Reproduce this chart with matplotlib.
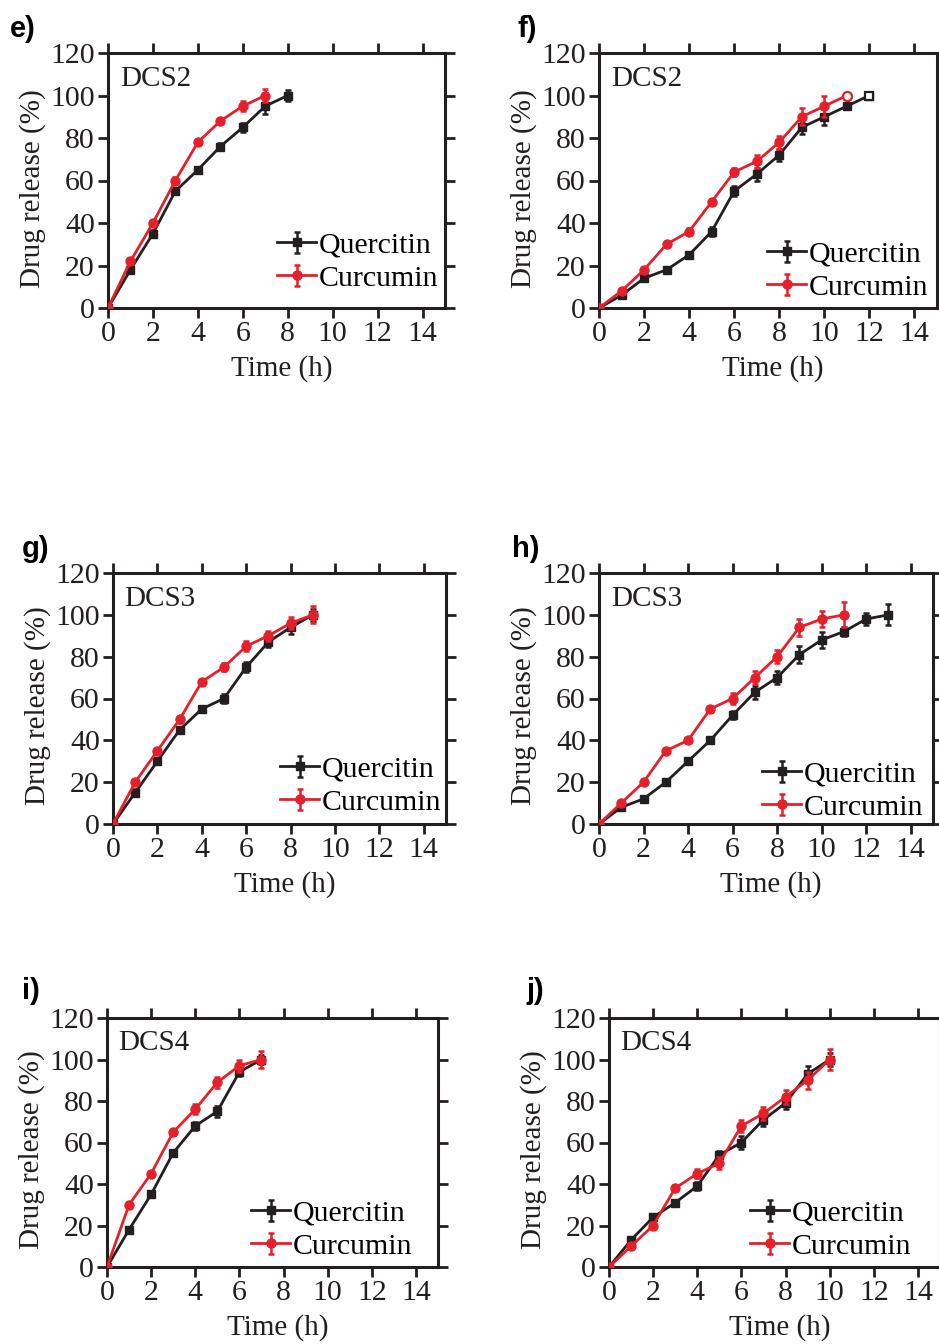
import matplotlib
matplotlib.use("Agg")
import matplotlib.pyplot as plt
from matplotlib.legend_handler import HandlerErrorbar
from matplotlib.container import ErrorbarContainer

plt.rcParams["font.family"] = ["Liberation Serif", "DejaVu Serif"]

BLACK = "#231f20"
RED = "#e5202a"

# ---- release data (time in h, cumulative release in %) ----
e_q_t = [0, 1, 2, 3, 4, 5, 6, 7, 8]
e_q_y = [0, 18, 35, 55, 65, 76, 85, 95, 100]
e_q_err = [0.5, 1.5, 1.5, 1.5, 1.5, 1.5, 2, 3.5, 2.5]
e_c_t = [0, 1, 2, 3, 4, 5, 6, 7]
e_c_y = [0, 22, 40, 60, 78, 88, 95, 100]
e_c_err = [0.5, 1.5, 1.5, 1.5, 1.5, 1.5, 2.5, 3]

f_q_t = [0, 1, 2, 3, 4, 5, 6, 7, 8, 9, 10, 11, 12]
f_q_y = [0, 6, 14, 18, 25, 36, 55, 63, 72, 85, 90, 95, 100]
f_q_err = [0.5, 1, 1, 1, 1.5, 2, 2.5, 3, 3, 3, 4, 1, 0]
f_c_t = [0, 1, 2, 3, 4, 5, 6, 7, 8, 9, 10, 11]
f_c_y = [0, 8, 18, 30, 36, 50, 64, 69, 78, 90, 95, 100]
f_c_err = [0.5, 1, 1.5, 1, 1.5, 1.5, 2, 3, 3, 4, 5, 0]

g_q_t = [0, 1, 2, 3, 4, 5, 6, 7, 8, 9]
g_q_y = [0, 15, 30, 45, 55, 60, 75, 87, 94, 100]
g_q_err = [0.5, 1.5, 1.5, 1.5, 1.5, 2, 2.5, 2.5, 3, 3]
g_c_t = [0, 1, 2, 3, 4, 5, 6, 7, 8, 9]
g_c_y = [0, 20, 35, 50, 68, 75, 85, 90, 96, 100]
g_c_err = [0.5, 1.5, 1.5, 1.5, 1.5, 2, 2.5, 2.5, 3, 4]

h_q_t = [0, 1, 2, 3, 4, 5, 6, 7, 8, 9, 10, 11, 12, 13]
h_q_y = [0, 8, 12, 20, 30, 40, 52, 63, 70, 81, 88, 92, 98, 100]
h_q_err = [0.5, 1, 1, 1, 1, 1.5, 2, 3, 3, 4, 4, 2, 3, 5]
h_c_t = [0, 1, 2, 3, 4, 5, 6, 7, 8, 9, 10, 11]
h_c_y = [0, 10, 20, 35, 40, 55, 60, 70, 80, 94, 98, 100]
h_c_err = [0.5, 1, 1, 1, 1, 1.5, 2.5, 3, 3, 4, 4, 6]

i_q_t = [0, 1, 2, 3, 4, 5, 6, 7]
i_q_y = [0, 18, 35, 55, 68, 75, 94, 100]
i_q_err = [0.5, 1.5, 1.5, 1.5, 2, 2.5, 2, 2]
i_c_t = [0, 1, 2, 3, 4, 5, 6, 7]
i_c_y = [0, 30, 45, 65, 76, 89, 97, 100]
i_c_err = [0.5, 1.5, 1.5, 1.5, 2.5, 2.5, 3, 4]

j_q_t = [0, 1, 2, 3, 4, 5, 6, 7, 8, 9, 10]
j_q_y = [0, 13, 24, 31, 39, 54, 60, 71, 79, 93, 100]
j_q_err = [0.5, 1.5, 1.5, 1.5, 2, 2, 3, 3, 3, 4, 3]
j_c_t = [0, 1, 2, 3, 4, 5, 6, 7, 8, 9, 10]
j_c_y = [0, 10, 20, 38, 45, 50, 68, 74, 82, 90, 100]
j_c_err = [0.5, 1.5, 1.5, 1.5, 2, 3, 3, 3, 3.5, 4, 5]

panels = [
    ("e)", "DCS2", (e_q_t, e_q_y, e_q_err), (e_c_t, e_c_y, e_c_err), False),
    ("f)", "DCS2", (f_q_t, f_q_y, f_q_err), (f_c_t, f_c_y, f_c_err), True),
    ("g)", "DCS3", (g_q_t, g_q_y, g_q_err), (g_c_t, g_c_y, g_c_err), False),
    ("h)", "DCS3", (h_q_t, h_q_y, h_q_err), (h_c_t, h_c_y, h_c_err), False),
    ("i)", "DCS4", (i_q_t, i_q_y, i_q_err), (i_c_t, i_c_y, i_c_err), False),
    ("j)", "DCS4", (j_q_t, j_q_y, j_q_err), (j_c_t, j_c_y, j_c_err), False),
]

W, H = 939, 1344
# axes boxes in pixels: left, right, top, bottom
boxes = [
    (108, 445, 53, 308),
    (599, 937, 53, 308),
    (113, 446, 573, 824),
    (599, 933, 573, 824),
    (107, 438, 1018, 1267),
    (609, 940, 1018, 1267),
]
# panel letter anchors in pixels (left, vertical centre)
letter_pos = [(10, 29), (518, 29), (22, 549), (512, 549), (22, 991), (527, 991)]
# legend anchor (lower-right corner) in axes coordinates
legend_anchor = [(1.030, 0.0), (1.024, -0.035), (1.036, -0.032),
                 (1.021, -0.052), (0.973, -0.036), (0.964, -0.036)]

fig = plt.figure(figsize=(W / 100, H / 100), dpi=100)
FS_TICK = 21.5
FS_LAB = 21
FS_LEG = 21.5

for (letter, name, q, c, hollow_end), (l, r, t, b), (lx, ly), anc in zip(
        panels, boxes, letter_pos, legend_anchor):
    ax = fig.add_axes([l / W, 1 - b / H, (r - l) / W, (b - t) / H])
    ax.errorbar(q[0], q[1], yerr=q[2], color=BLACK, lw=2.0, marker="s", ms=6,
                capsize=2.5, elinewidth=1.8, capthick=1.8, label="Quercitin", zorder=3)
    ax.errorbar(c[0], c[1], yerr=c[2], color=RED, lw=2.0, marker="o", ms=6.5,
                capsize=2.5, elinewidth=1.8, capthick=1.8, label="Curcumin", zorder=4)
    if hollow_end:
        ax.plot(q[0][-1:], q[1][-1:], ls="none", marker="s", ms=6, mfc="white",
                mec=BLACK, mew=1.6, zorder=5)
        ax.plot(c[0][-1:], c[1][-1:], ls="none", marker="o", ms=6.5, mfc="white",
                mec=RED, mew=1.6, zorder=5)
    ax.set_xlim(0, 15)
    ax.set_ylim(0, 120)
    ax.set_xticks(range(0, 15, 2))
    ax.set_yticks(range(0, 121, 20))
    ax.tick_params(direction="out", length=7, width=2.0, labelsize=FS_TICK,
                   top=True, right=True, pad=2.5, colors=BLACK)
    for s in ax.spines.values():
        s.set_linewidth(2.2)
        s.set_color(BLACK)
    ax.set_xlabel("Time (h)", fontsize=FS_LAB, labelpad=6, color=BLACK, x=0.515)
    ax.set_ylabel("Drug release (%)", fontsize=FS_LAB, labelpad=3, color=BLACK, y=0.47)
    ax.text(0.035, 0.95, name, transform=ax.transAxes, fontsize=FS_LAB, va="top",
            ha="left", color=BLACK)
    ax.legend(loc="lower right", bbox_to_anchor=anc, frameon=False, fontsize=FS_LEG,
              handlelength=1.3, handletextpad=0.1, labelspacing=0.2,
              borderaxespad=0.25, borderpad=0.3,
              handler_map={ErrorbarContainer: HandlerErrorbar(yerr_size=0.35)})
    fig.text(lx / W, 1 - ly / H, letter, fontsize=21, fontweight="bold",
             family="Liberation Sans", va="center", ha="left")

fig.savefig("out.png", dpi=100)
